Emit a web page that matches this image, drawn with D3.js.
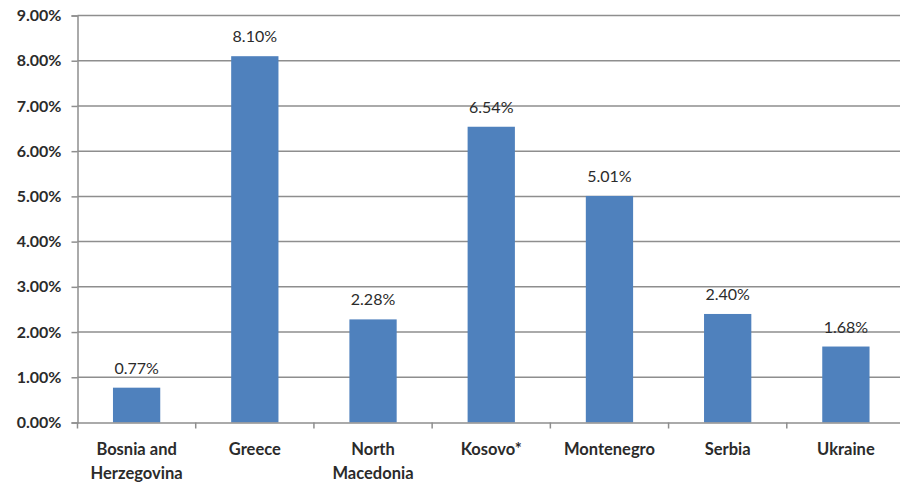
<!DOCTYPE html>
<html><head><meta charset="utf-8">
<script src="https://cdn.jsdelivr.net/npm/d3@7"></script>
<style>body{margin:0;background:#fff}svg{display:block}</style>
</head><body><svg id="c" width="900" height="485"></svg>
<script>
const categories = [["Bosnia and","Herzegovina"],["Greece"],["North","Macedonia"],["Kosovo*"],["Montenegro"],["Serbia"],["Ukraine"]];
const values = [0.77, 8.10, 2.28, 6.54, 5.01, 2.40, 1.68];
const yTicks = [0,1,2,3,4,5,6,7,8,9];

(function(){
const svg = d3.select("#c");
const mLeft = 77.5, mRight = 905, mTop = 15.5, mBottom = 422.5;
const font = "Lato, 'Open Sans', sans-serif";
const x = d3.scaleBand().domain(d3.range(categories.length)).range([mLeft, mRight]).paddingInner(0.6).paddingOuter(0.3);
const xb = d3.scaleBand().domain(d3.range(categories.length)).range([mLeft, mRight]);
const y = d3.scaleLinear().domain([0, 9]).range([mBottom, mTop]);

// gridlines
svg.append("g").selectAll("line").data(yTicks.slice(1)).join("line")
  .attr("x1", mLeft).attr("x2", mRight).attr("y1", d => y(d)).attr("y2", d => y(d))
  .attr("stroke", "#8e8e8e").attr("stroke-width", 1.5);

// y axis
const ya = svg.append("g").attr("transform", `translate(${mLeft},0)`)
  .call(d3.axisLeft(y).tickValues(yTicks).tickSize(6).tickPadding(10).tickFormat(d => d.toFixed(2) + "%"));
ya.select(".domain").attr("stroke", "#8e8e8e").attr("stroke-width", 1.5);
ya.selectAll(".tick line").attr("stroke", "#8e8e8e").attr("stroke-width", 1.5);
ya.selectAll(".tick text").attr("font-family", font).attr("font-weight", "bold").attr("font-size", 16).attr("fill", "#2b2b2b");

// bars
svg.append("g").selectAll("rect").data(values).join("rect")
  .attr("x", (d, i) => x(i)).attr("width", x.bandwidth())
  .attr("y", d => y(d)).attr("height", d => y(0) - y(d))
  .attr("fill", "#4f81bd");

// data labels
svg.append("g").selectAll("text").data(values).join("text")
  .attr("x", (d, i) => x(i) + x.bandwidth() / 2).attr("y", d => y(d) - 14)
  .attr("text-anchor", "middle").attr("font-family", font).attr("font-size", 16).attr("fill", "#2b2b2b")
  .text(d => d.toFixed(2) + "%");

// x axis
const xa = svg.append("g").attr("transform", `translate(0,${mBottom})`)
  .call(d3.axisBottom(xb).tickValues([]).tickSizeOuter(0));
xa.select(".domain").attr("stroke", "#8e8e8e").attr("stroke-width", 1.5);
svg.append("g").selectAll("line").data(d3.range(categories.length + 1)).join("line")
  .attr("x1", i => mLeft + i * xb.step()).attr("x2", i => mLeft + i * xb.step())
  .attr("y1", mBottom).attr("y2", mBottom + 6).attr("stroke", "#8e8e8e").attr("stroke-width", 1.5);

const lab = svg.append("g").selectAll("text").data(categories).join("text")
  .attr("x", (d, i) => xb(i) + xb.bandwidth() / 2).attr("y", 455)
  .attr("text-anchor", "middle").attr("font-family", font).attr("font-weight", "bold").attr("font-size", 16.5).attr("fill", "#2b2b2b");
lab.selectAll("tspan").data(d => d).join("tspan")
  .attr("x", function() { return this.parentNode.getAttribute("x"); })
  .attr("dy", (d, j) => j === 0 ? 0 : 23.5).text(d => d);
})();
</script></body></html>
